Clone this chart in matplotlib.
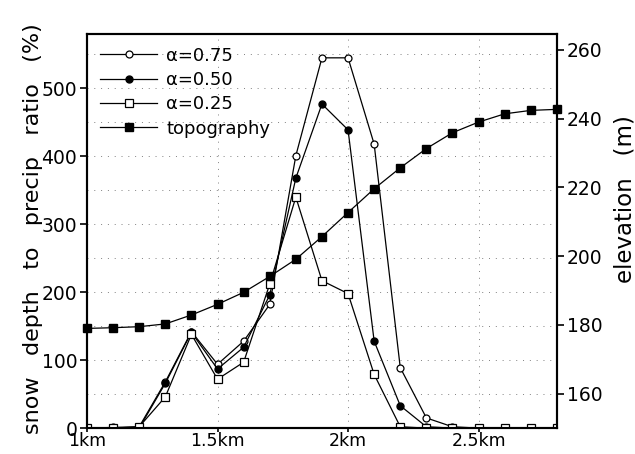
import numpy as np
import matplotlib
matplotlib.use('Agg')
import matplotlib.pyplot as plt

# distance along transect (km)
dist = [1.0, 1.1, 1.2, 1.3, 1.4, 1.5, 1.6, 1.7, 1.8, 1.9,
        2.0, 2.1, 2.2, 2.3, 2.4, 2.5, 2.6, 2.7, 2.8]

# snow depth to precip ratio (%)
ratio_075 = [0, 1, 2, 68, 142, 94, 128, 182, 401, 545,
             545, 418, 89, 15, 2, 0, 0, 0, 0]
ratio_050 = [0, 0, 0, 66, 141, 87, 119, 196, 368, 477,
             439, 128, 33, 2, 0, 0, 0, 0, 0]
ratio_025 = [0, 0, 2, 46, 138, 72, 97, 212, 340, 217,
             198, 79, 2, 0, 0, 0, 0, 0, 0]

# elevation (m)
topo = [179.0, 179.2, 179.5, 180.3, 182.9, 186.0, 189.5, 194.1, 199.1, 205.7,
        212.7, 219.6, 225.7, 231.3, 235.9, 239.0, 241.4, 242.4, 242.7]

xticks = [1.0, 1.5, 2.0, 2.5]
xticklabels = ['1km', '1.5km', '2km', '2.5km']

plt.rcParams['font.family'] = 'DejaVu Sans'

fig = plt.figure(figsize=(6.35, 4.54), dpi=100)
ax = fig.add_axes([0.137, 0.057, 0.740, 0.868])
ax2 = ax.twinx()

lw = 0.9
l1, = ax.plot(dist, ratio_075, color='black', lw=lw, marker='o', markersize=5,
              markerfacecolor='white', markeredgewidth=0.9, label='α=0.75', zorder=3)
l2, = ax.plot(dist, ratio_050, color='black', lw=lw, marker='o', markersize=5,
              markerfacecolor='black', label='α=0.50', zorder=3)
l3, = ax.plot(dist, ratio_025, color='black', lw=lw, marker='s', markersize=5.5,
              markerfacecolor='white', markeredgewidth=0.9, label='α=0.25', zorder=3)
l4, = ax2.plot(dist, topo, color='black', lw=lw, marker='s', markersize=5.5,
               markerfacecolor='black', label='topography', clip_on=False)

ax.set_xlim(1.0, 2.8)
ax.set_ylim(0, 580)
ax2.set_ylim(150, 264.6)

ax.set_xticks(xticks)
ax.set_xticklabels(xticklabels)
ax.set_yticks([0, 100, 200, 300, 400, 500])
ax2.set_yticks([160, 180, 200, 220, 240, 260])

# dotted grid
for yv in np.arange(50, 580, 50):
    ax.axhline(yv, color='gray', lw=0.7, ls=(0, (1, 6)), zorder=0)
for xv in [1.5, 2.0, 2.5]:
    ax.axvline(xv, color='gray', lw=0.7, ls=(0, (1, 6)), zorder=0)

for a in (ax, ax2):
    for s in a.spines.values():
        s.set_linewidth(1.5)
    a.tick_params(axis='y', direction='out', length=5, width=1.2, labelsize=13.5, pad=2)
ax.tick_params(axis='x', direction='out', length=3, width=1.2, labelsize=12.5, pad=0)

ax.set_ylabel('snow   depth   to   precip   ratio   (%)', fontsize=16)
ax2.set_ylabel('elevation   (m)', fontsize=16.5)
ax.yaxis.set_label_coords(-0.093, 0.505)
ax2.yaxis.set_label_coords(1.12, 0.58)

ax.legend(handles=[l1, l2, l3, l4], loc='upper left', frameon=False,
          fontsize=13, handlelength=3.2, handletextpad=0.5, labelspacing=0.35,
          borderaxespad=0.3)

fig.savefig('out.png', dpi=100)
